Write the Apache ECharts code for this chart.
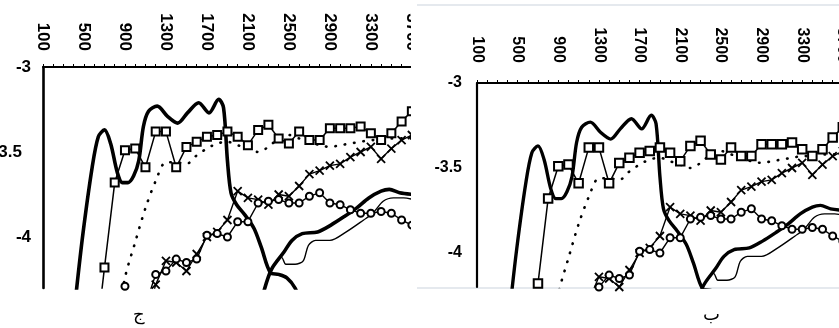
<!DOCTYPE html>
<html><head><meta charset="utf-8">
<script src="https://cdn.jsdelivr.net/npm/echarts@6/dist/echarts.min.js"></script>
<style>
html,body{margin:0;padding:0;background:#fff;width:839px;height:328px;overflow:hidden}
#left{position:absolute;left:0;top:0;width:411px;height:328px}
#right{position:absolute;left:417px;top:0;width:422px;height:328px}
</style></head><body>
<div id="left"></div><div id="right"></div>
<script>
// ---- tick labels ----
const xTickLabels = ['100','500','900','1300','1700','2100','2500','2900','3300','3700'];
const yTickValues = [-3, -3.5, -4];
const yTickLabelsLeft = ['-3', '3.5', '-4'];
const yTickLabelsRight = ['-3', '-3.5', '-4'];
const panelLetters = ['ج', 'ب'];

// ---- series: open squares ----
const squareX = [600,700,800,900,1000,1100,1200,1300,1400,1500,1600,1700,1800,1900,2000,2100,2200,2300,2400,2500,2600,2700,2800,2900,3000,3100,3200,3300,3400,3500,3600,3700];
const squareY = [-4.7,-4.18,-3.68,-3.49,-3.48,-3.59,-3.38,-3.38,-3.59,-3.47,-3.44,-3.41,-3.40,-3.38,-3.41,-3.46,-3.37,-3.34,-3.42,-3.45,-3.38,-3.43,-3.43,-3.36,-3.36,-3.36,-3.35,-3.39,-3.43,-3.39,-3.32,-3.26];

// ---- series: crosses ----
const crossX = [1100,1200,1300,1400,1500,1600,1700,1800,1900,2000,2100,2200,2300,2400,2500,2600,2700,2800,2900,3000,3100,3200,3300,3400,3500,3600,3700];
const crossY = [-4.5,-4.28,-4.14,-4.15,-4.2,-4.1,-4.0,-3.97,-3.9,-3.73,-3.77,-3.78,-3.81,-3.75,-3.76,-3.70,-3.63,-3.61,-3.58,-3.57,-3.53,-3.50,-3.47,-3.54,-3.48,-3.43,-3.40];

// ---- series: open circles ----
const circleX = [900,1000,1100,1200,1300,1400,1500,1600,1700,1800,1900,2000,2100,2200,2300,2400,2500,2600,2700,2800,2900,3000,3100,3200,3300,3400,3500,3600,3700];
const circleY = [-4.29,-4.45,-4.4,-4.22,-4.2,-4.13,-4.15,-4.13,-3.99,-3.98,-4.0,-3.91,-3.91,-3.80,-3.79,-3.78,-3.80,-3.80,-3.76,-3.74,-3.80,-3.81,-3.84,-3.86,-3.86,-3.85,-3.86,-3.90,-3.93];

// ---- series: dotted line ----
const dottedX = [800,900,1000,1100,1200,1300,1400,1500,1600,1700,1800,1900,2000,2100,2200,2300,2400,2500,2600,2700,2800,2900,3000,3100,3200,3300,3400,3500,3600,3700];
const dottedY = [-4.6,-4.24,-4.03,-3.83,-3.67,-3.56,-3.56,-3.57,-3.52,-3.48,-3.45,-3.44,-3.46,-3.48,-3.5,-3.47,-3.42,-3.40,-3.42,-3.44,-3.46,-3.47,-3.46,-3.45,-3.44,-3.43,-3.43,-3.42,-3.42,-3.42];

// ---- series: thick solid line (upper) ----
const thickAX = [420,490,580,640,700,760,825,875,930,985,1035,1080,1130,1215,1315,1415,1510,1620,1720,1815,1862,1900,1935,1990,2070,2160,2230,2320,2400,2480,2560,2620];
const thickAY = [-4.35,-3.98,-3.59,-3.41,-3.37,-3.45,-3.62,-3.68,-3.68,-3.64,-3.55,-3.35,-3.26,-3.23,-3.29,-3.33,-3.27,-3.21,-3.27,-3.19,-3.24,-3.55,-3.74,-3.81,-3.87,-3.95,-4.06,-4.21,-4.22,-4.24,-4.3,-4.4];

// ---- series: thick solid line (lower, rising) ----
const thickFX = [2180,2260,2330,2450,2530,2630,2780,2910,3040,3160,3280,3400,3480,3580,3720];
const thickFY = [-4.5,-4.31,-4.19,-4.09,-4.02,-3.98,-3.97,-3.93,-3.88,-3.83,-3.77,-3.73,-3.72,-3.74,-3.75];

// ---- series: thin solid line ----
const thinGX = [2330,2430,2470,2560,2640,2690,2760,2900,3060,3230,3320,3420,3520,3620,3720];
const thinGY = [-4.19,-4.12,-4.16,-4.16,-4.14,-4.05,-4.02,-4.02,-3.97,-3.9,-3.86,-3.79,-3.77,-3.77,-3.78];

function pairs(xs, ys) { return xs.map((x, i) => [x, ys[i]]); }

const FONT = "'Liberation Sans', Arial, Helvetica, sans-serif";

function buildPanel(dom, p) {
  const chart = echarts.init(dom, null, { renderer: 'canvas' });
  const xLabelNums = xTickLabels.map(Number);
  const black = '#000';
  const series = [
    { type: 'line', data: pairs(thickAX, thickAY), smooth: 0.3, showSymbol: false,
      lineStyle: { color: black, width: p.thick }, z: 2 },
    { type: 'line', data: pairs(thickFX, thickFY), smooth: 0.3, showSymbol: false,
      lineStyle: { color: black, width: p.thick }, z: 2 },
    { type: 'line', data: pairs(thinGX, thinGY), smooth: 0.3, showSymbol: false,
      lineStyle: { color: black, width: 1.4 }, z: 2 },
    { type: 'line', data: pairs(dottedX, dottedY), smooth: 0.3, showSymbol: false,
      lineStyle: { color: black, width: 2.6, type: [0.5, 9], cap: 'round' }, z: 2 },
    { type: 'line', data: pairs(crossX, crossY), symbol: 'path://M0,0L10,10M10,0L0,10', symbolSize: p.cross,
      itemStyle: { color: black, borderColor: black, borderWidth: 1.8 },
      lineStyle: { color: black, width: 1.4 }, z: 3 },
    { type: 'line', data: pairs(circleX, circleY), symbol: 'emptyCircle', symbolSize: p.circle,
      itemStyle: { color: black }, lineStyle: { color: black, width: 1.4 }, z: 4 },
    { type: 'line', data: pairs(squareX, squareY), symbol: 'emptyRect', symbolSize: p.square,
      itemStyle: { color: black }, lineStyle: { color: black, width: 1.5 }, z: 5 }
  ];
  series.forEach(s => { s.animation = false; s.silent = true; s.emphasis = { disabled: true }; s.clip = true; });

  chart.setOption({
    animation: false,
    grid: { left: p.gridLeft, top: p.gridTop, width: p.gridWidth, height: p.gridHeight,
            containLabel: false, outerBoundsMode: 'none' },
    xAxis: {
      type: 'value', position: 'top', min: 100, max: p.xMax, interval: 100,
      splitLine: { show: false },
      axisLine: { show: true, onZero: false, lineStyle: { color: black, width: p.xAxisWidth } },
      axisTick: { show: true, length: 3, lineStyle: { color: black, width: 1 } },
      axisLabel: {
        rotate: 90, margin: p.xMargin, fontSize: p.xFont, fontWeight: 'bold', color: black, fontFamily: FONT,
        hideOverlap: false,
        formatter: function (v) {
          const r = Math.round(v);
          if (Math.abs(v - r) > 1e-6) return '';
          const i = xLabelNums.indexOf(r);
          return i >= 0 ? xTickLabels[i] : '';
        }
      }
    },
    yAxis: {
      type: 'value', min: p.yMin, max: -3, interval: 0.1,
      splitLine: { show: false },
      axisLine: { show: true, onZero: false, lineStyle: { color: black, width: p.yAxisWidth } },
      axisTick: { show: false },
      axisLabel: {
        margin: p.yMargin, fontSize: p.yFont, fontWeight: 'bold', color: black, fontFamily: FONT,
        rich: { c: { padding: [0, 9, 0, 0], fontSize: p.yFont, fontWeight: 'bold', color: black, fontFamily: FONT } },
        formatter: function (v) {
          for (let i = 0; i < yTickValues.length; i++) {
            if (Math.abs(v - yTickValues[i]) < 1e-6) {
              const t = p.yLabels[i];
              return t.charAt(0) === '-' ? t : '{c|' + t + '}';
            }
          }
          return '';
        }
      }
    },
    graphic: p.graphic,
    series: series
  });
  return chart;
}

buildPanel(document.getElementById('left'), {
  gridLeft: 43, gridTop: 67, gridWidth: 375, gridHeight: 221, xMax: 3760, yMin: -4.3,
  xAxisWidth: 2, yAxisWidth: 2.6, xMargin: 16, xFont: 17, yFont: 17, yMargin: 12,
  yLabels: yTickLabelsLeft, thick: 3.6, square: 8, circle: 7, cross: 8,
  graphic: [
    { type: 'text', left: 133, top: 306, style: { text: panelLetters[0], fontSize: 18, fontFamily: "'DejaVu Sans', sans-serif", fill: '#000' } }
  ]
});

buildPanel(document.getElementById('right'), {
  gridLeft: 60, gridTop: 83, gridWidth: 376, gridHeight: 204, xMax: 3800, yMin: -4.2,
  xAxisWidth: 1.8, yAxisWidth: 2.2, xMargin: 20, xFont: 16, yFont: 16, yMargin: 15,
  yLabels: yTickLabelsRight, thick: 3.4, square: 8.5, circle: 7, cross: 8,
  graphic: [
    { type: 'line', shape: { x1: 0, y1: 5, x2: 422, y2: 5 }, style: { stroke: '#dde2e8', lineWidth: 1.5 } },
    { type: 'line', shape: { x1: 0, y1: 288, x2: 422, y2: 288 }, style: { stroke: '#dde2e8', lineWidth: 1.5 } },
    { type: 'text', left: 286, top: 306, style: { text: panelLetters[1], fontSize: 18, fontFamily: "'DejaVu Sans', sans-serif", fill: '#000' } }
  ]
});
</script>
</body></html>
